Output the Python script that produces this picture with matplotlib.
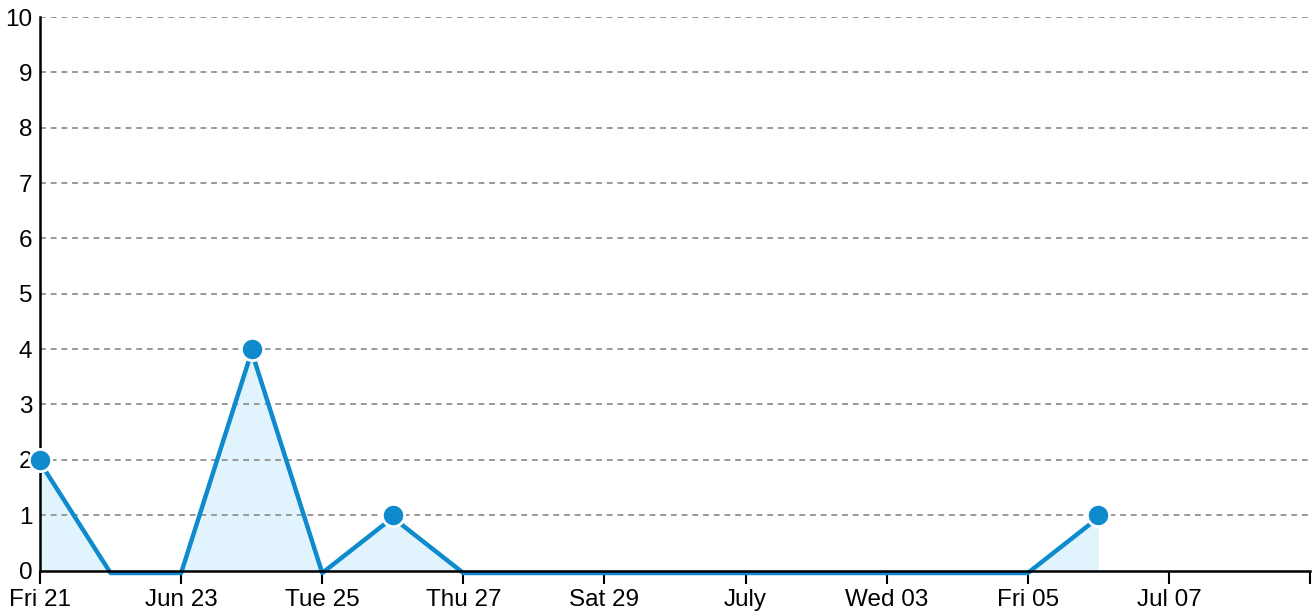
import matplotlib
matplotlib.use("Agg")
import matplotlib.pyplot as plt
import matplotlib.dates as mdates
import matplotlib.transforms as mtransforms
import numpy as np
import datetime as dt

plt.rcParams['font.family'] = ['Liberation Sans', 'DejaVu Sans']

dates = ["2024-06-21", "2024-06-22", "2024-06-23", "2024-06-24", "2024-06-25",
         "2024-06-26", "2024-06-27", "2024-06-28", "2024-06-29", "2024-06-30",
         "2024-07-01", "2024-07-02", "2024-07-03", "2024-07-04", "2024-07-05",
         "2024-07-06"]
values = [2, 0, 0, 4, 0, 1, 0, 0, 0, 0, 0, 0, 0, 0, 0, 1]
tick_dates = ["2024-06-21", "2024-06-23", "2024-06-25", "2024-06-27", "2024-06-29",
              "2024-07-01", "2024-07-03", "2024-07-05", "2024-07-07", "2024-07-09"]
tick_labels = ["Fri 21", "Jun 23", "Tue 25", "Thu 27", "Sat 29", "July",
               "Wed 03", "Fri 05", "Jul 07", ""]
x_range = ["2024-06-21", "2024-07-09"]
y_ticks = list(range(0, 11))

x = [dt.datetime.strptime(d, "%Y-%m-%d") for d in dates]
xn = mdates.date2num(x)
vals = np.array(values, dtype=float)

fig = plt.figure(figsize=(13.16, 6.12), dpi=100)
ax = fig.add_axes([40/1316, 1 - 570.5/612, (1310-40)/1316, (570.5-17)/612])

line_color = "#0f8bcd"
fill_color = "#e1f3fc"

ax.fill_between(xn, 0, vals, color=fill_color, zorder=1, linewidth=0)
for yv in y_ticks[1:]:
    ax.axhline(yv, color="#999999", linestyle=(0, (3, 2.5)), linewidth=1.4, zorder=2)
offset = mtransforms.offset_copy(ax.transData, fig=fig, x=0, y=-2.5, units='dots')
ax.plot(xn, vals, color=line_color, linewidth=3.2, zorder=3, transform=offset,
        clip_on=False)
mask = vals > 0
ax.plot(xn[mask], vals[mask], linestyle="none", marker="o", markersize=16,
        markerfacecolor=line_color, markeredgecolor="white", markeredgewidth=2,
        zorder=5, clip_on=False)

xl = [mdates.date2num(dt.datetime.strptime(d, "%Y-%m-%d")) for d in x_range]
ax.set_xlim(xl)
ax.set_ylim(0, 10)

tn = [mdates.date2num(dt.datetime.strptime(d, "%Y-%m-%d")) for d in tick_dates]
ax.set_xticks(tn)
ax.set_xticklabels(tick_labels, fontsize=17.5)
ax.set_yticks(y_ticks)
ax.set_yticklabels([str(v) for v in y_ticks], fontsize=17.5)
ax.tick_params(axis="x", direction="out", length=9, width=1.5, color="black", pad=4)
ax.tick_params(axis="y", length=0, pad=5.5)

for s in ["top", "right"]:
    ax.spines[s].set_visible(False)
for s in ["left", "bottom"]:
    ax.spines[s].set_linewidth(1.8)
    ax.spines[s].set_color("black")
    ax.spines[s].set_zorder(4)

fig.savefig("out.png", dpi=100)
